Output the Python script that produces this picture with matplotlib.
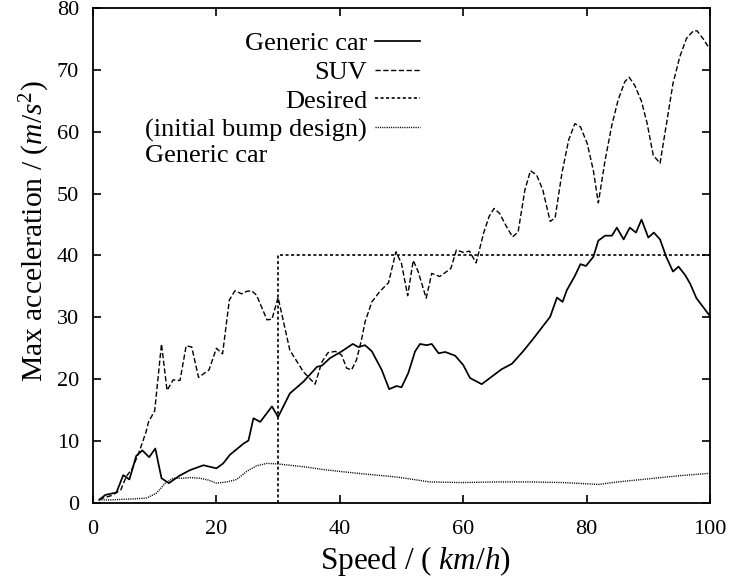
import matplotlib

matplotlib.use("Agg")
from matplotlib import pyplot as plt

# Generic car (solid)
car_speed = [1, 2, 3.8, 4.9, 5.9, 7.0, 8.0, 9.1, 10.1, 11.1, 12.3, 14.0, 15.7, 17.9, 20.0, 21.1,
             22.2, 24.4, 25.2, 26.0, 27.1, 29.0, 30.0, 31.9, 34.1, 36.3, 37.1, 38.4, 40.3, 42.1,
             43.0, 44.1, 45.2, 46.8, 48.0, 49.2, 50.0, 51.1, 52.2, 53.0, 54.1, 54.9, 56.0, 57.1,
             58.7, 60.0, 61.1, 63.0, 64.6, 66.2, 67.9, 69.7, 71.4, 74.1, 75.2, 76.1, 76.8, 78.1,
             79.0, 79.9, 81.1, 81.9, 83.0, 84.1, 84.9, 86.0, 87.0, 88.0, 88.9, 90.0, 90.9, 91.9,
             92.9, 94.0, 94.9, 96.0, 96.8, 97.8, 100]
car_acc = [0.5, 1.3, 1.7, 4.5, 3.8, 7.6, 8.5, 7.4, 8.8, 4.0, 3.2, 4.4, 5.3, 6.1, 5.6, 6.4,
           7.8, 9.6, 10.1, 13.7, 13.1, 15.6, 13.9, 17.7, 19.6, 22.0, 22.2, 23.4, 24.5, 25.7,
           25.2, 25.5, 24.5, 21.5, 18.4, 18.9, 18.7, 21.0, 24.5, 25.7, 25.5, 25.7, 24.2, 24.4,
           23.8, 22.3, 20.2, 19.2, 20.4, 21.6, 22.5, 24.5, 26.6, 30.1, 33.2, 32.5, 34.4, 36.7,
           38.6, 38.3, 39.8, 42.4, 43.2, 43.2, 44.5, 42.6, 44.5, 43.7, 45.8, 42.9, 43.7, 42.6,
           39.8, 37.4, 38.2, 36.8, 35.4, 33.1, 30.2]

# SUV (dashed)
suv_speed = [1, 3.0, 4.5, 5.4, 6.4, 7.6, 8.6, 9.0, 10.0, 11.1, 12.0, 13.0, 14.1, 15.1, 16.0,
             17.1, 18.8, 20.0, 21.0, 22.1, 23.0, 24.1, 24.9, 25.7, 26.5, 28.2, 29.0, 30.0, 31.9,
             34.1, 36.0, 37.1, 38.1, 39.3, 40.3, 41.1, 41.9, 42.7, 43.5, 44.1, 45.2, 46.5, 47.9,
             48.4, 49.1, 50.0, 51.0, 51.9, 52.7, 54.0, 54.9, 56.2, 58.0, 58.9, 60.0, 61.0, 62.1,
             63.3, 64.2, 65.0, 65.9, 67.0, 68.0, 68.9, 70.0, 70.9, 71.9, 72.9, 74.1, 74.9, 76.0,
             77.1, 78.1, 79.0, 80.1, 81.1, 81.9, 83.0, 84.1, 85.1, 86.2, 86.9, 87.8, 88.9, 89.8,
             90.8, 91.9, 93.0, 94.0, 95.1, 96.2, 97.3, 97.9, 98.9, 100]
suv_acc = [0.6, 1.2, 2.1, 4.3, 5.6, 8.6, 11.5, 13.1, 14.9, 25.7, 18.2, 19.9, 19.8, 25.4, 25.2,
           20.3, 21.5, 25.0, 24.1, 32.8, 34.3, 33.8, 34.2, 34.3, 33.6, 29.6, 29.7, 33.2, 24.7,
           21.2, 19.2, 22.8, 24.3, 24.5, 23.9, 21.8, 21.5, 23.1, 26.3, 29.3, 32.5, 34.2, 35.6,
           37.7, 40.6, 38.7, 33.5, 39.2, 37.4, 33.1, 37.1, 36.6, 37.9, 40.9, 40.5, 40.7, 38.8,
           43.6, 46.3, 47.6, 46.8, 44.7, 43.0, 43.8, 50.6, 53.7, 53.0, 50.6, 45.5, 46.1, 53.3,
           58.7, 61.3, 60.8, 58.1, 53.7, 48.5, 55.4, 61.1, 65.1, 68.1, 68.8, 67.5, 64.9, 61.4,
           56.2, 54.9, 61.6, 67.8, 72.1, 75.1, 76.3, 76.3, 75.0, 73.3]

# Desired limit
desired_speed = [30, 30, 100]
desired_acc = [0, 40, 40]

# Initial bump design, generic car (dotted)
bump_speed = [1, 3, 5, 6.5, 8.7, 10.3, 11.7, 13.0, 14.4, 15.7, 17.3, 18.7, 20.0, 21.7, 23.3,
              24.9, 26.5, 28.2, 30.0, 31.9, 34.6, 37.3, 40.0, 43.8, 49.2, 54.6, 60.0, 65.4,
              70.8, 76.2, 80.0, 82.0, 85.0, 90.0, 95.0, 100]
bump_acc = [0.5, 0.5, 0.6, 0.65, 0.8, 1.6, 3.2, 4.0, 4.0, 4.1, 4.0, 3.7, 3.2, 3.4, 3.8,
            5.1, 6.0, 6.4, 6.3, 6.1, 5.8, 5.4, 5.1, 4.7, 4.2, 3.4, 3.3, 3.4, 3.4, 3.3,
            3.1, 3.0, 3.4, 3.9, 4.4, 4.8]

x_ticks = [0, 20, 40, 60, 80, 100]
y_ticks = [0, 10, 20, 30, 40, 50, 60, 70, 80]


def setup_style() -> None:
    plt.rcParams["font.family"] = ["Liberation Serif", "DejaVu Serif"]
    plt.rcParams["mathtext.fontset"] = "custom"
    plt.rcParams["mathtext.rm"] = "Liberation Serif"
    plt.rcParams["mathtext.it"] = "Liberation Serif:italic"
    plt.rcParams["lines.scale_dashes"] = False
    plt.rcParams["axes.linewidth"] = 1.3


def plot_lines(ax) -> list:
    (car,) = ax.plot(car_speed, car_acc, color="black", lw=1.25, label="Generic car")
    (suv,) = ax.plot(suv_speed, suv_acc, color="black", lw=1.0, dashes=(3.8, 1.8), label="SUV")
    (desired,) = ax.plot(desired_speed, desired_acc, color="black", lw=1.2,
                         dashes=(2.2, 1.8), label="Desired")
    (bump,) = ax.plot(bump_speed, bump_acc, color="black", lw=1.0, dashes=(0.8, 0.8),
                      label="(initial bump design)")
    return [car, suv, desired, bump]


def decorate_graph(fig, ax, handles: list) -> None:
    ax.set_xlim(0, 100)
    ax.set_ylim(0, 80)
    ax.set_xticks(x_ticks)
    ax.set_yticks(y_ticks)
    ax.tick_params(direction="in", length=6, width=1.2, top=True, right=True, labelsize=16)
    ax.tick_params(axis="x", pad=12)
    ax.tick_params(axis="y", pad=10)
    ax.set_xlabel("Speed / ( $km/h$)", fontsize=22.5)
    ax.set_ylabel("Max acceleration / ($m/s^2$)", fontsize=21.3)
    ax.xaxis.set_label_coords(0.522, -0.082)
    ax.yaxis.set_label_coords(-0.066, 0.55)

    leg = ax.legend(handles=handles, loc="upper right", bbox_to_anchor=(0.53, 0.952),
                    frameon=False, markerfirst=False, fontsize=19, handlelength=1.7,
                    handletextpad=0.3, labelspacing=0.2, borderpad=0, borderaxespad=0)

    # second line of the last legend entry, left aligned under it
    fig.canvas.draw()
    bb = leg.get_texts()[-1].get_window_extent()
    x0, y0 = ax.transAxes.inverted().transform((bb.x0, bb.y0))
    ax.text(x0, y0 - 0.006, "Generic car", transform=ax.transAxes, ha="left", va="top",
            fontsize=19)


def main() -> None:
    setup_style()
    fig = plt.figure(figsize=(7.3, 5.78), dpi=100)
    ax = fig.add_axes([0.1274, 0.1298, 0.8452, 0.8564])
    handles = plot_lines(ax)
    decorate_graph(fig, ax, handles)
    fig.savefig("out.png", dpi=100)


if __name__ == "__main__":
    main()
